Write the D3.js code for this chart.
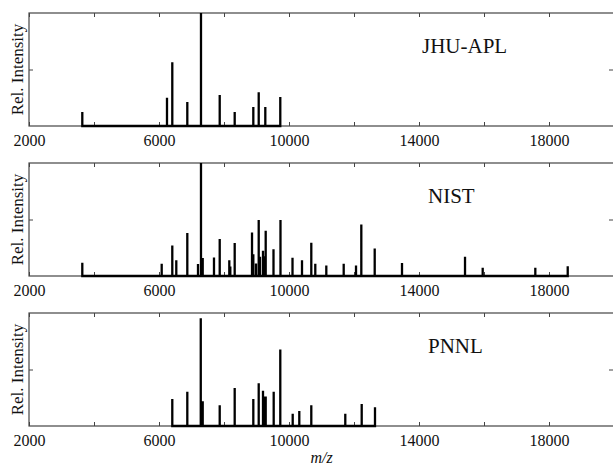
<!DOCTYPE html>
<html>
<head>
<meta charset="utf-8">
<script src="https://cdn.jsdelivr.net/npm/d3@7"></script>
<style>
  html, body { margin: 0; padding: 0; background: #fff; }
  svg { display: block; }
  text { font-family: "Liberation Serif", "Times New Roman", serif; fill: #111; }
</style>
</head>
<body>
<svg id="chart" width="613" height="467"></svg>
<script>
// ---- data ----
const panelNames = ["JHU-APL", "NIST", "PNNL"];

const jhuMz  = [3640, 6246, 6409, 6871, 7292, 7868, 8329, 8902, 9068, 9271, 9732];
const jhuInt = [0.124, 0.249, 0.565, 0.213, 1.0, 0.275, 0.124, 0.169, 0.299, 0.169, 0.257];

const nistMz  = [3640, 6083, 6409, 6532, 6871, 7200, 7292, 7345, 7692, 7868, 8163, 8194, 8329,
                 8862, 8902, 8985, 9068, 9108, 9200, 9240, 9283, 9523, 9738, 10108, 10400,
                 10686, 10809, 11148, 11683, 12062, 12225, 12637, 13477, 15416, 15960, 17579, 18576];
const nistInt = [0.118, 0.109, 0.271, 0.139, 0.380, 0.106, 1.0, 0.160, 0.164, 0.327, 0.139, 0.085, 0.293,
                 0.386, 0.193, 0.110, 0.495, 0.171, 0.224, 0.175, 0.401, 0.236, 0.496, 0.162, 0.139,
                 0.294, 0.109, 0.092, 0.109, 0.092, 0.456, 0.244, 0.115, 0.171, 0.074, 0.074, 0.086];

const pnnlMz  = [6409, 6871, 7285, 7345, 7868, 8329, 8902, 9068, 9200, 9240, 9283, 9529, 9732,
                 10114, 10317, 10686, 11732, 12237, 12646];
const pnnlInt = [0.239, 0.304, 0.953, 0.218, 0.183, 0.336, 0.239, 0.378, 0.313, 0.26, 0.26, 0.304, 0.678,
                 0.109, 0.133, 0.183, 0.109, 0.195, 0.165];

const xTickValues  = [2000, 4000, 6000, 8000, 10000, 12000, 14000, 16000, 18000, 20000];
const xTickLabels  = ["2000", "", "6000", "", "10000", "", "14000", "", "18000", ""];
const yTickValues  = [0.5];
const yLabel = "Rel. Intensity";
const xLabel = "m/z";

// ---- layout ----
const svg = d3.select("#chart");
const left = 29, right = 614;
const panelTops = [13, 163, 313];
const panelH = 113;
const labelX = [422, 428, 428];

const x = d3.scaleLinear().domain([2000, 20000]).range([left, right]);

const series = [
  {mz: jhuMz, val: jhuInt},
  {mz: nistMz, val: nistInt},
  {mz: pnnlMz, val: pnnlInt}
];

const borderColor = "#444";

series.forEach((s, i) => {
  const top = panelTops[i];
  const y = d3.scaleLinear().domain([0, 1]).range([top + panelH, top]);
  const g = svg.append("g");

  // frame
  g.append("rect")
    .attr("x", left).attr("y", top)
    .attr("width", right - left).attr("height", panelH)
    .attr("fill", "none").attr("stroke", borderColor).attr("stroke-width", 1.2);

  // bottom axis
  const xb = d3.axisBottom(x).tickValues(xTickValues)
    .tickSize(-4).tickPadding(9)
    .tickFormat((d, k) => xTickLabels[k]);
  const ax = g.append("g").attr("transform", `translate(0,${top + panelH})`).call(xb);
  ax.select(".domain").remove();
  ax.selectAll(".tick line").attr("stroke", borderColor);
  ax.selectAll(".tick text")
    .style("font-family", '"Liberation Serif", "Times New Roman", serif')
    .style("font-size", "16px").attr("fill", "#111");

  // top axis ticks
  const xt = d3.axisTop(x).tickValues(xTickValues).tickSize(-4).tickFormat("");
  const at = g.append("g").attr("transform", `translate(0,${top})`).call(xt);
  at.select(".domain").remove();
  at.selectAll(".tick line").attr("stroke", borderColor);

  // left / right y ticks
  const yl = d3.axisLeft(y).tickValues(yTickValues).tickSize(-4).tickFormat("");
  const al = g.append("g").attr("transform", `translate(${left},0)`).call(yl);
  al.select(".domain").remove();
  al.selectAll(".tick line").attr("stroke", borderColor);
  const yr = d3.axisRight(y).tickValues(yTickValues).tickSize(-4).tickFormat("");
  const ar = g.append("g").attr("transform", `translate(${right - 1},0)`).call(yr);
  ar.select(".domain").remove();
  ar.selectAll(".tick line").attr("stroke", borderColor);

  // spectrum as stick plot
  const pts = [];
  s.mz.forEach((m, k) => {
    pts.push([m, 0]); pts.push([m, s.val[k]]); pts.push([m, 0]);
  });
  const line = d3.line().x(d => x(d[0])).y(d => y(d[1]));
  g.append("path").datum(pts)
    .attr("d", line)
    .attr("fill", "none").attr("stroke", "#000")
    .attr("stroke-width", 2.3).attr("stroke-linejoin", "miter");

  // panel name
  g.append("text")
    .attr("x", labelX[i]).attr("y", top + 40)
    .style("font-size", "21px")
    .text(panelNames[i]);

  // y label
  g.append("text")
    .attr("transform", `translate(23,${top + panelH / 2}) rotate(-90)`)
    .attr("text-anchor", "middle")
    .style("font-size", "17px")
    .text(yLabel);
});

svg.append("text")
  .attr("x", x(11000)).attr("y", 463)
  .attr("text-anchor", "middle")
  .style("font-size", "16px").style("font-style", "italic")
  .text(xLabel);
</script>
</body>
</html>
